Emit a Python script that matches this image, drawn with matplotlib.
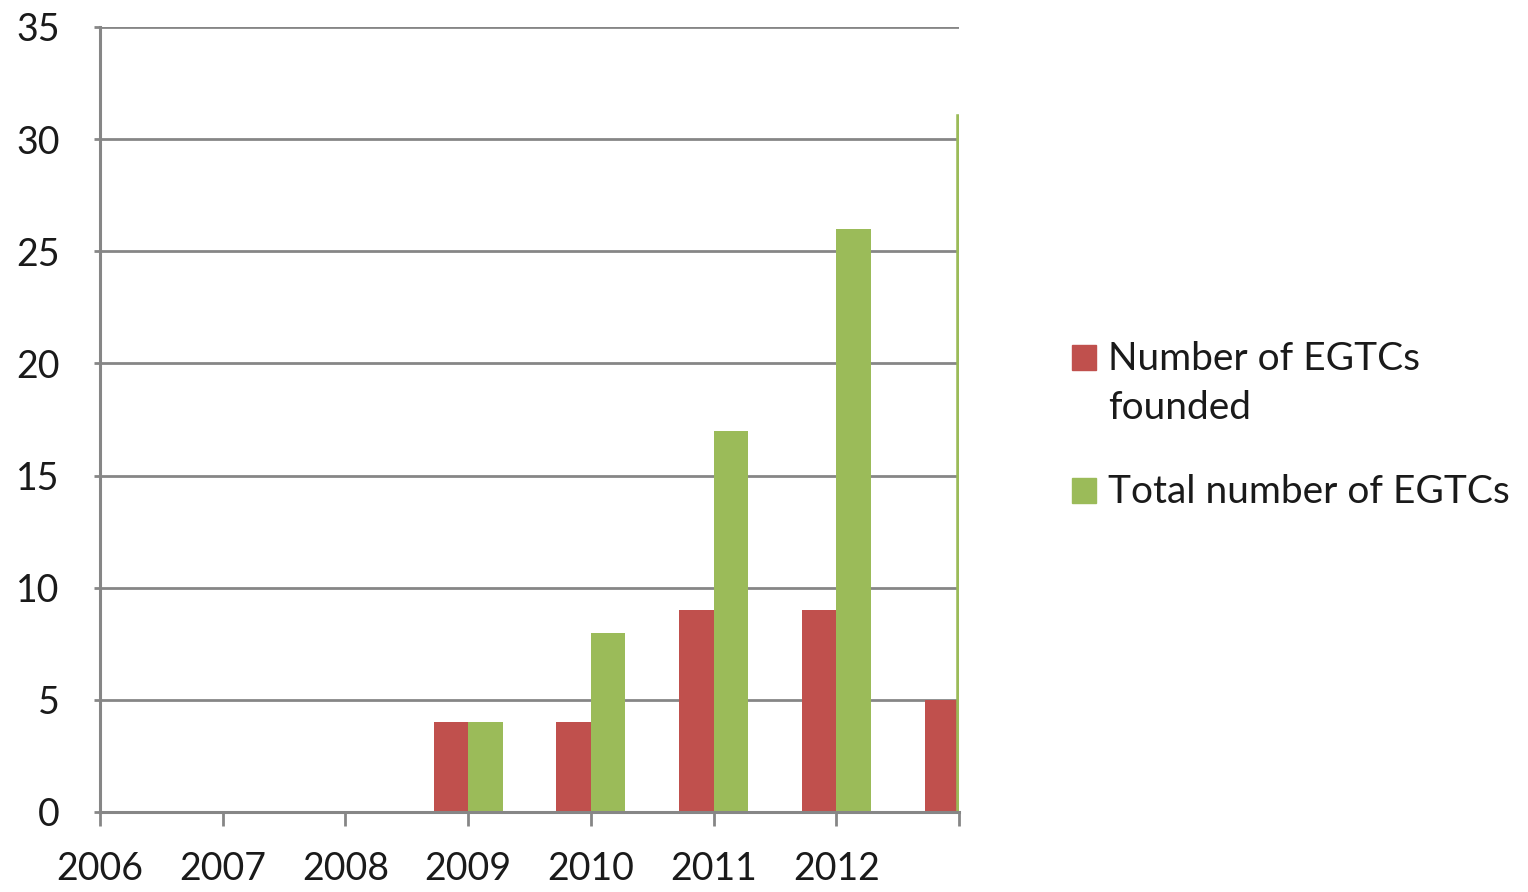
import numpy as np
import matplotlib.pyplot as plt
from matplotlib.patches import Rectangle

plt.rcParams['font.family'] = ['Lato', 'DejaVu Sans']

# data
years = [2006, 2007, 2008, 2009, 2010, 2011, 2012, 2013]
bar_years = [2009, 2010, 2011, 2012, 2013]
founded = [4, 4, 9, 9, 5]
total = [4, 8, 17, 26, 31]
tick_labels = ['2006', '2007', '2008', '2009', '2010', '2011', '2012', '']
series_names = ['Number of EGTCs\nfounded', 'Total number of EGTCs']

red = '#C0504D'
green = '#9BBB59'
grid_c = '#868686'
txt_c = '#1a1a1a'

W, H = 1528, 892
fig = plt.figure(figsize=(W/100, H/100), dpi=100)
ax = fig.add_axes([100/W, 1 - 812/H, 859/W, 785/H])

w = 0.28
x = np.array(bar_years)
ax.bar(x - w/2, founded, width=w, color=red, zorder=3)
# last green bar is cut at the plot edge, only its left edge shows
lw = [0] * (len(total) - 1) + [4]
ax.bar(x + w/2, total, width=w, color=green, edgecolor=green, linewidth=lw, zorder=3)

ax.set_xlim(2006, 2013)
ax.set_ylim(0, 35)
ax.set_yticks(range(0, 36, 5))
ax.set_xticks(years)
ax.set_xticklabels(tick_labels)

ax.grid(axis='y', color=grid_c, linewidth=2, zorder=0)
ax.set_axisbelow(True)
for s in ['top', 'right']:
    ax.spines[s].set_visible(False)
for s in ['left', 'bottom']:
    ax.spines[s].set_color(grid_c)
    ax.spines[s].set_linewidth(2.2)
ax.spines['bottom'].set_zorder(4)

ax.tick_params(axis='y', length=4, width=2, color=grid_c, pad=25, labelsize=27, labelcolor=txt_c)
ax.tick_params(axis='x', length=10, width=2, color=grid_c, pad=18, labelsize=27, labelcolor=txt_c)

# legend, drawn by hand so the square sits on the first text line (Excel style)
for name, col, ytop in zip(series_names, [red, green], [345, 478]):
    fig.add_artist(Rectangle((1072/W, 1 - (ytop + 25)/H), 24/W, 25/H,
                             transform=fig.transFigure, color=col))
    fig.text(1108/W, 1 - (ytop - 4)/H, name, fontsize=28, color=txt_c,
             va='top', ha='left', linespacing=1.45)

fig.savefig('out.png', dpi=100)
